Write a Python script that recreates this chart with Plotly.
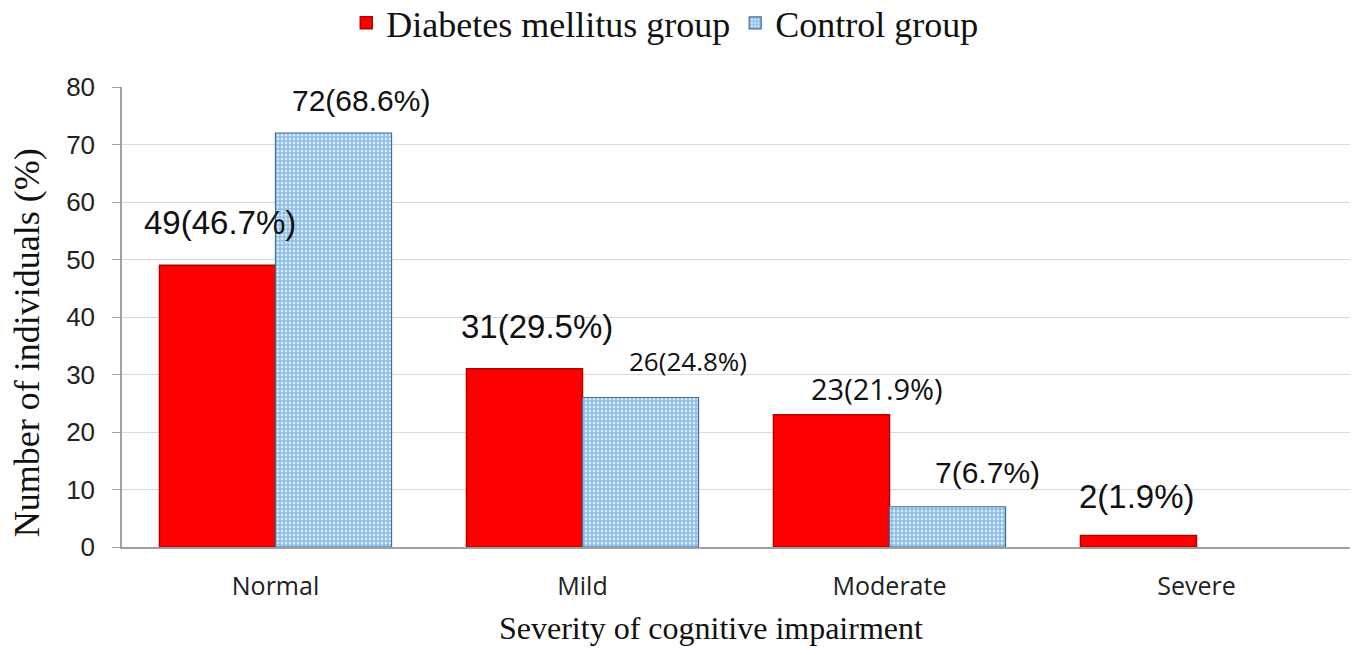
import plotly.graph_objects as go

categories = ["Normal", "Mild", "Moderate", "Severe"]
diabetes_counts = [49, 31, 23, 2]
diabetes_pct = [46.7, 29.5, 21.9, 1.9]
control_counts = [72, 26, 7, 0]
control_pct = [68.6, 24.8, 6.7, 0.0]
y_ticks = [0, 10, 20, 30, 40, 50, 60, 70, 80]

fig = go.Figure()
fig.add_trace(go.Bar(
    name="Diabetes mellitus group", x=categories, y=diabetes_counts,
    marker=dict(color="#ff0000", line=dict(color="#b30000", width=1.5)),
))
# zero-height bars are left out so no outline is drawn on the axis
fig.add_trace(go.Bar(
    name="Control group", x=categories,
    y=[v if v else None for v in control_counts],
    marker=dict(color="#b8dcf7", line=dict(color="#3f6f99", width=1.2),
                pattern=dict(shape="+", fgcolor="#2170c0", bgcolor="#d2ebfc",
                             size=4, solidity=0.5, fillmode="overlay")),
))

# value labels: (x offset from category centre, gap above bar, font, size)
label_style = [
    # Diabetes
    [(-0.18, 7.5, "Arial", 33), (-0.147, 7.4, "Arial", 33),
     (-0.04, 4.6, "Open Sans", 29), (-0.195, 6.7, "Arial", 33)],
    # Control
    [(0.28, 5.6, "Arial", 30), (0.345, 6.3, "Open Sans", 26),
     (0.32, 6.0, "Arial", 30), None],
]
series = [(diabetes_counts, diabetes_pct), (control_counts, control_pct)]
for s, (counts, pcts) in enumerate(series):
    for i, (c, p) in enumerate(zip(counts, pcts)):
        st = label_style[s][i]
        if st is None or c == 0:
            continue
        dx, gap, fam, size = st
        fig.add_annotation(
            x=i + dx, y=c + gap, xref="x", yref="y",
            text=f"{c}({p}%)", showarrow=False,
            font=dict(family=fam, size=size, color="#111111"),
        )

# axis titles
fig.add_annotation(
    text="Number of individuals (%)", textangle=-90, showarrow=False,
    xref="paper", yref="paper", x=-0.0775, y=0.445,
    xanchor="center", yanchor="middle",
    font=dict(family="Liberation Serif", size=36, color="#111111"),
)
fig.add_annotation(
    text="Severity of cognitive impairment", showarrow=False,
    xref="paper", yref="paper", x=0.4795, y=-0.176,
    xanchor="center", yanchor="middle",
    font=dict(family="Liberation Serif", size=32, color="#111111"),
)

fig.update_layout(
    width=1355, height=655,
    margin=dict(l=122, r=5, t=87, b=108, autoexpand=False),
    paper_bgcolor="white", plot_bgcolor="white",
    barmode="group", bargap=0.244, bargroupgap=0,
    legend=dict(orientation="h", x=0.442, xanchor="center",
                yref="container", y=0.965, yanchor="middle",
                font=dict(family="Liberation Serif", size=36, color="#111111"),
                itemwidth=30, traceorder="normal"),
    showlegend=True,
)
fig.update_xaxes(
    type="category", range=[-0.5, 3.5],
    tickfont=dict(family="Open Sans", size=25, color="#222222"),
    ticks="", ticklabelstandoff=16,
    showline=True, linecolor="#a0a0a0", linewidth=1.5,
)
fig.update_yaxes(
    range=[0, 80], tickvals=y_ticks,
    tickfont=dict(family="Arial", size=26, color="#222222"),
    showgrid=True, gridcolor="#d9d9d9", gridwidth=1,
    showline=True, linecolor="#a0a0a0", linewidth=1.5,
    ticks="outside", ticklen=8, tickcolor="#a0a0a0", ticklabelstandoff=12,
    zeroline=False,
)

fig.write_html("out.html")
